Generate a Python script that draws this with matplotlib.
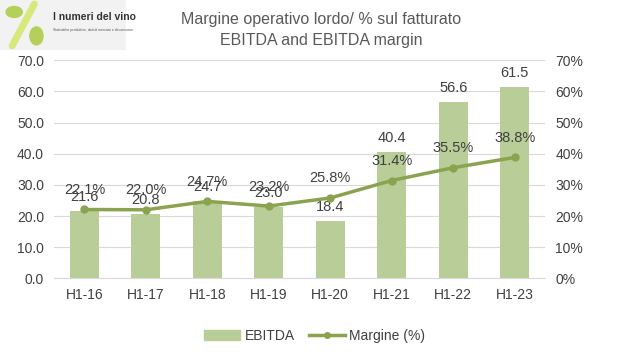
import numpy as np
import matplotlib.pyplot as plt
from matplotlib.patches import Ellipse, Rectangle

plt.rcParams['font.family'] = ['Liberation Sans', 'DejaVu Sans']

# data
periodi = ['H1-16', 'H1-17', 'H1-18', 'H1-19', 'H1-20', 'H1-21', 'H1-22', 'H1-23']
ebitda = [21.6, 20.8, 24.7, 23.0, 18.4, 40.4, 56.6, 61.5]
margine = [22.1, 22.0, 24.7, 23.2, 25.8, 31.4, 35.5, 38.8]

bar_col = '#B9CD98'
line_col = '#8AA34F'
txt_col = '#404040'

fig = plt.figure(figsize=(6.17, 3.56), dpi=100)
ax = fig.add_axes([0.087, 0.218, 0.797, 0.613])
x = np.arange(len(periodi))

ax.bar(x, ebitda, width=0.47, color=bar_col, zorder=2)
ax.set_ylim(0, 70)
ax.set_xlim(-0.5, len(periodi) - 0.5)
ax.set_yticks(np.arange(0, 71, 10))
ax.set_yticklabels(['%.1f' % v for v in np.arange(0, 71, 10)])
ax.set_xticks(x)
ax.set_xticklabels(periodi)
ax.grid(axis='y', color='#D9D9D9', lw=0.8, zorder=0)
for s in ax.spines.values():
    s.set_visible(False)
ax.spines['bottom'].set_visible(True)
ax.spines['bottom'].set_color('#D9D9D9')
ax.tick_params(length=0, labelsize=10, colors=txt_col, pad=7)

ax2 = ax.twinx()
ax2.plot(x, margine, color=line_col, lw=2.5, marker='o', ms=5, zorder=3)
ax2.set_ylim(0, 70)
ax2.set_yticks(np.arange(0, 71, 10))
ax2.set_yticklabels(['%d%%' % v for v in np.arange(0, 71, 10)])
for s in ax2.spines.values():
    s.set_visible(False)
ax2.tick_params(length=0, labelsize=10, colors=txt_col, pad=7)

# labels
for xi, v in zip(x, ebitda):
    ax.annotate('%.1f' % v, (xi, v), xytext=(0, 5), textcoords='offset points',
                ha='center', va='bottom', fontsize=10.5, color=txt_col)
for xi, v in zip(x, margine):
    ax2.annotate('%.1f%%' % v, (xi, v), xytext=(0, 9), textcoords='offset points',
                 ha='center', va='bottom', fontsize=10.5, color=txt_col)

# title
fig.text(0.52, 0.945, 'Margine operativo lordo/ % sul fatturato', ha='center', va='center',
         fontsize=11.5, color='#595959')
fig.text(0.52, 0.885, 'EBITDA and EBITDA margin', ha='center', va='center',
         fontsize=11.5, color='#595959')

# legend
h1 = Rectangle((0, 0), 1, 1, color=bar_col)
h2 = plt.Line2D([], [], color=line_col, lw=2.5, marker='o', ms=4)
fig.legend([h1, h2], ['EBITDA', 'Margine (%)'], loc='center', bbox_to_anchor=(0.51, 0.057),
           ncol=2, frameon=False, fontsize=10, handlelength=2.6, columnspacing=1.0,
           handletextpad=0.3, labelcolor=txt_col)

# logo
lax = fig.add_axes([0.0, 0.86, 0.205, 0.14])
lax.set_xlim(0, 125)
lax.set_ylim(0, 50)
lax.axis('off')
lax.add_patch(Rectangle((0, 0), 125, 50, color='#F2F2F2', zorder=0))
lax.plot([12, 34], [4, 46], color='#D8E87A', lw=5, solid_capstyle='round', zorder=1)
lax.add_patch(Ellipse((14, 38), 16, 11, color='#B5D05A', zorder=2))
lax.add_patch(Ellipse((36, 14), 13, 18, color='#B5D05A', zorder=2))
lax.text(52, 33, 'I numeri del vino', fontsize=7.5, fontweight='bold', color='#333333',
         va='center', family=['Liberation Sans Narrow', 'Liberation Sans'])
lax.text(52, 20, 'Statistiche produttive, dati di mercato e di consumo', fontsize=2.5,
         color='#555555', va='center')

plt.savefig('out.png', dpi=100)
